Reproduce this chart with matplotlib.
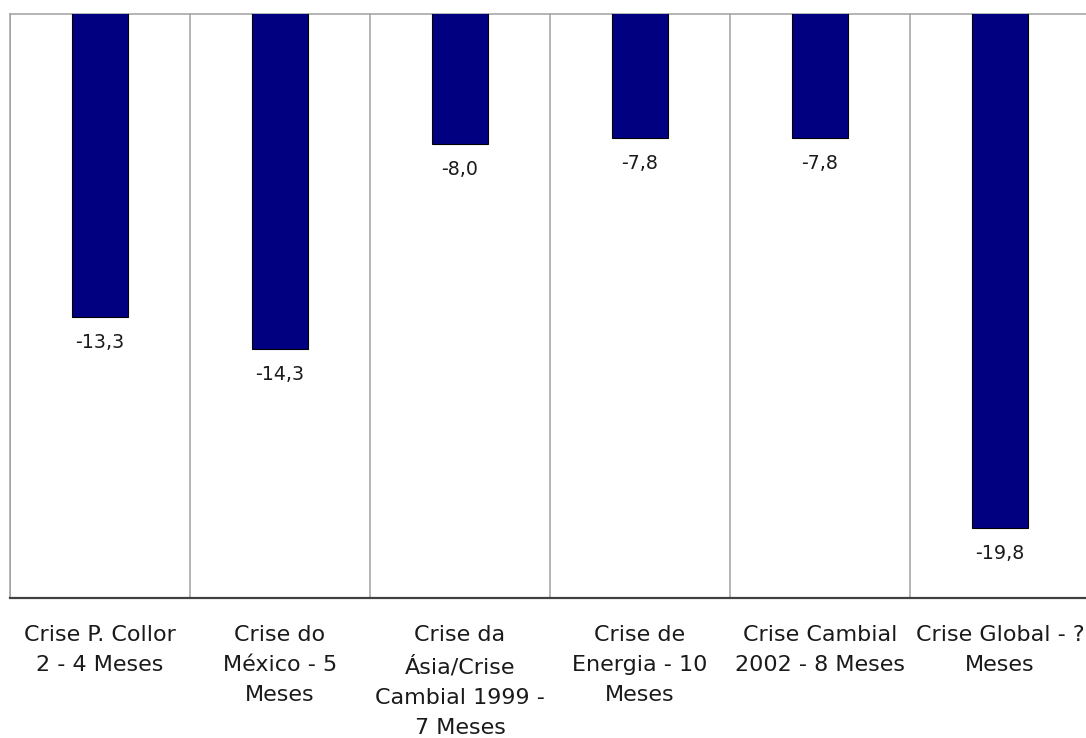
import matplotlib
matplotlib.use("Agg")
import matplotlib.pyplot as plt
import numpy as np

categories = [
    "Crise P. Collor\n2 - 4 Meses",
    "Crise do\nMéxico - 5\nMeses",
    "Crise da\nÁsia/Crise\nCambial 1999 -\n7 Meses",
    "Crise de\nEnergia - 10\nMeses",
    "Crise Cambial\n2002 - 8 Meses",
    "Crise Global - ?\nMeses",
]
values = [-13.3, -14.3, -8.0, -7.8, -7.8, -19.8]
value_labels = ["-13,3", "-14,3", "-8,0", "-7,8", "-7,8", "-19,8"]

W, H = 1086, 738
fig = plt.figure(figsize=(W / 100, H / 100), dpi=100)
left, right, top, bottom = 10, 1090, 14, 598
ax = fig.add_axes([left / W, 1 - bottom / H, (right - left) / W, (bottom - top) / H])

x = np.arange(len(categories))
ax.bar(x, values, width=0.31, color="#000080", edgecolor="black", linewidth=0.8, zorder=3)

ax.set_xlim(-0.5, len(categories) - 0.5)
ax.set_ylim(-21.95, -4)

for xi, v, lab in zip(x, values, value_labels):
    ax.annotate(lab, (xi, v), xytext=(0, -18.4), textcoords="offset points",
                ha="center", va="center", fontsize=13.7, color="#1a1a1a",
                family="DejaVu Sans", zorder=4)

ax.set_xticks(x)
ax.set_xticklabels(categories, fontsize=16, family="DejaVu Sans", color="#1a1a1a")
plt.setp(ax.get_xticklabels(), linespacing=1.63)
ax.tick_params(axis="x", length=0, pad=19.5)
ax.set_yticks([])

ax.set_xticks(np.arange(len(categories) + 1) - 0.5, minor=True)
ax.tick_params(axis="x", which="minor", length=0)
ax.grid(which="minor", axis="x", color="#a0a0a0", linewidth=1.1, zorder=1)

for s in ["left", "top", "right"]:
    ax.spines[s].set_color("#a0a0a0")
    ax.spines[s].set_linewidth(1.1)
ax.spines["bottom"].set_color("#404040")
ax.spines["bottom"].set_linewidth(1.6)

fig.savefig("out.png", dpi=100, facecolor="white")
